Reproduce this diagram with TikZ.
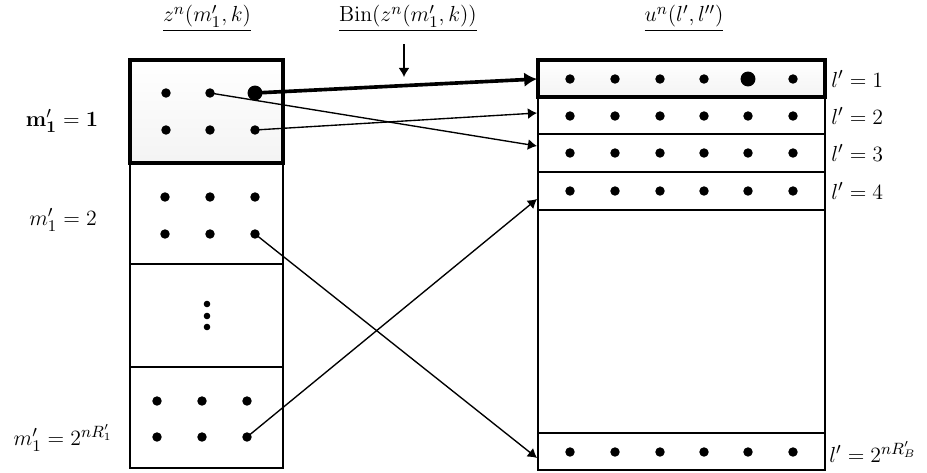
\documentclass[tikz,border=0pt]{standalone}
\usetikzlibrary{arrows.meta}
\begin{document}
\begin{tikzpicture}[x=0.55pt,y=-0.55pt,
  dot/.style={circle,fill=black,inner sep=0pt,minimum size=5.2pt},
  bigdot/.style={circle,fill=black,inner sep=0pt,minimum size=8.2pt},
  tinydot/.style={circle,fill=black,inner sep=0pt,minimum size=3.6pt},
  box/.style={draw=black,line width=0.8pt},
  thickbox/.style={draw=black,line width=2pt,top color=white,bottom color=gray!9},
  arr/.style={line width=0.75pt,-{Latex[length=5pt,width=6pt]}},
  thickarr/.style={line width=2pt,-{Latex[length=7pt,width=8pt]}},
  lab/.style={font=\fontsize{12.4}{14}\selectfont,inner sep=0pt}]
\useasboundingbox (0,0) rectangle (927,473);

% left column
\draw[box] (130,163) rectangle (283,468);
\draw[box] (130,264) -- (283,264);
\draw[box] (130,367) -- (283,367);
\path[thickbox] (130,60) rectangle (283,163);

% right column
\draw[box] (538,97) rectangle (825,470);
\foreach \yy in {134,172,210,433} \draw[box] (538,\yy) -- (825,\yy);
\path[thickbox] (538,60) rectangle (825,97);

% dots in left boxes
\node[dot] (a1) at (166,93) {};
\node[dot] (a2) at (210,93) {};
\node[bigdot] (a3) at (255,93) {};
\node[dot] (a4) at (166,130) {};
\node[dot] (a5) at (210,130) {};
\node[dot] (a6) at (255,130) {};

\node[dot] (b1) at (165,197) {};
\node[dot] (b2) at (210,197) {};
\node[dot] (b3) at (255,197) {};
\node[dot] (b4) at (165,234) {};
\node[dot] (b5) at (210,234) {};
\node[dot] (b6) at (255,234) {};

\node[tinydot] (v1) at (207,304) {};
\node[tinydot] (v2) at (207,316) {};
\node[tinydot] (v3) at (207,327) {};

\node[dot] (d1) at (157,401) {};
\node[dot] (d2) at (202,401) {};
\node[dot] (d3) at (247,401) {};
\node[dot] (d4) at (157,437) {};
\node[dot] (d5) at (202,437) {};
\node[dot] (d6) at (247,437) {};

% dots in right rows
\foreach \xx [count=\i] in {570,615,660,704,748,793}{
  \node[dot] (r2d\i) at (\xx,116) {};
  \node[dot] (r3d\i) at (\xx,153) {};
  \node[dot] (r4d\i) at (\xx,191) {};
  \node[dot] (rBd\i) at (\xx,452) {};
}
\foreach \xx [count=\i] in {570,615,660,704,793}{
  \node[dot] (r1d\i) at (\xx,79) {};
}
\node[bigdot] (r1big) at (748,79) {};

% arrow end points on the right column
\coordinate (e1) at (537,79);
\coordinate (e2) at (537,113);
\coordinate (e3) at (537,146);
\coordinate (e4) at (537,199);
\coordinate (eB) at (537,458);

% connectors
\draw[arr] (a2.center) -- (e3);
\draw[arr] (a6.center) -- (e2);
\draw[arr] (b6.center) -- (eB);
\draw[arr] (d6.center) -- (e4);
\draw[thickarr] (a3.center) -- (e1);

% top labels
\node[lab] (zl) at (207,18) {$\underline{z^n(m_1',k)}$};
\node[lab] (binl) at (408,18) {$\underline{\mathrm{Bin}(z^n(m_1',k))}$};
\node[lab] (ul) at (684,18) {$\underline{u^n(l',l'')}$};
\coordinate (bs) at (404,44);
\coordinate (be) at (404,77);
\draw[arr] (bs) -- (be);

% left labels
\node[lab] (m1) at (62,121) {$\mathbf{m}_{\mathbf{1}}'=\mathbf{1}$};
\node[lab] (m2) at (63,220) {$m_1'=2$};
\node[lab] (mR) at (63,438) {$m_1'=2^{nR_1'}$};

% right labels
\node[lab,anchor=west] (l1) at (831,79) {$l'=1$};
\node[lab,anchor=west] (l2) at (831,116) {$l'=2$};
\node[lab,anchor=west] (l3) at (831,153) {$l'=3$};
\node[lab,anchor=west] (l4) at (831,191) {$l'=4$};
\node[lab,anchor=west] (lB) at (829,452) {$l'=2^{nR_B'}$};
\end{tikzpicture}
\end{document}
